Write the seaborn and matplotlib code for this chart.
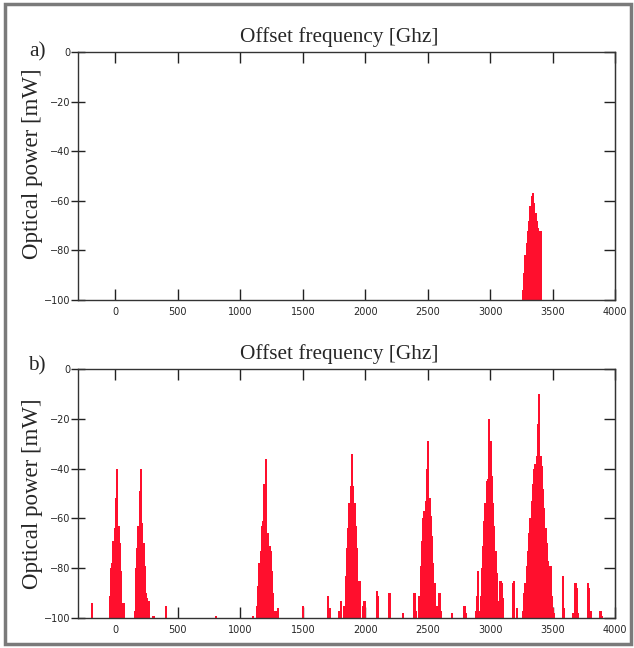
import pandas as pd
import seaborn as sns
import matplotlib.pyplot as plt
from matplotlib.patches import Rectangle

# baseline of the plots (mW axis floor)
floor = -100

# a) spectrum: offset frequency [GHz] vs optical power
freq_a = [3260, 3270, 3280, 3290, 3300, 3310, 3320, 3330, 3340, 3350,
          3360, 3370, 3380, 3390, 3400]
power_a = [-96, -89, -82, -77, -72, -68, -62, -58, -57, -61,
           -65, -68, -71, -72, -72]

# b) spectrum: comb clusters plus stray lines
freq_b = [-190,
          -50, -40, -30, -20, -10, 0, 10, 20, 30, 40, 50, 60,
          150, 160, 170, 180, 190, 200, 210, 220, 230, 240, 250, 260,
          300, 400, 800, 1100,
          1130, 1140, 1150, 1160, 1170, 1180, 1190, 1200, 1210, 1220,
          1230, 1240, 1250, 1260, 1270, 1290, 1300,
          1500, 1700, 1710, 1790, 1800,
          1830, 1840, 1850, 1860, 1870, 1880, 1890, 1900, 1910, 1920,
          1930, 1940, 1950,
          1980, 1990, 2090, 2100, 2190, 2300, 2390, 2400,
          2430, 2440, 2450, 2460, 2470, 2480, 2490, 2500, 2510, 2520,
          2530, 2540, 2550, 2560, 2570,
          2590, 2600, 2690, 2790, 2800,
          2880, 2890, 2900, 2910, 2920, 2930, 2940, 2950, 2960, 2970,
          2980, 2990, 3000, 3010, 3020, 3030, 3040, 3050, 3060, 3070,
          3080, 3090, 3100,
          3180, 3190, 3210,
          3260, 3270, 3280, 3290, 3300, 3310, 3320, 3330, 3340, 3350,
          3360, 3370, 3380, 3390, 3400, 3410, 3420, 3430, 3440, 3450,
          3460, 3470, 3480, 3490, 3500, 3510,
          3580, 3590, 3660, 3680, 3690, 3700, 3780, 3790, 3800,
          3880, 3890]
power_b = [-94,
           -91, -80, -78, -69, -64, -52, -40, -63, -70, -81, -94, -94,
           -97, -80, -72, -63, -49, -40, -62, -70, -79, -90, -92, -93,
           -99, -95, -99, -99,
           -95, -87, -78, -73, -63, -61, -46, -36, -67, -66,
           -71, -73, -81, -90, -97, -97, -96,
           -95, -91, -96, -97, -93,
           -95, -83, -72, -64, -54, -47, -34, -47, -54, -63,
           -72, -85, -85,
           -95, -93, -89, -91, -90, -98, -90, -97,
           -91, -79, -69, -60, -57, -53, -40, -29, -52, -59,
           -67, -78, -86, -95, -95,
           -90, -97, -98, -95, -98,
           -97, -91, -81, -97, -91, -80, -71, -61, -54, -45,
           -44, -20, -29, -43, -54, -63, -73, -82, -93, -93,
           -85, -86, -92,
           -86, -85, -96,
           -97, -90, -86, -79, -73, -66, -60, -53, -46, -40,
           -38, -35, -22, -10, -35, -39, -48, -56, -64, -70,
           -77, -85, -79, -91, -96, -98,
           -83, -96, -98, -86, -88, -98, -86, -88, -97,
           -97, -99]

x_ticks = [0, 500, 1000, 1500, 2000, 2500, 3000, 3500, 4000]
y_ticks = [0, -20, -40, -60, -80, -100]

red = "#ff0f2d"
serif = "Liberation Serif"

sns.set_style("ticks")
plt.rcParams["font.family"] = ["DejaVu Sans"]

fig = plt.figure(figsize=(6.34, 6.48), dpi=100)
W, H = 634, 648


def draw_panel(rect, freq, power, tag, tag_y, label_y):
    ax = fig.add_axes(rect)
    df = pd.DataFrame({"freq": freq, "level": [p - floor for p in power]})
    sns.barplot(data=df, x="freq", y="level", native_scale=True, width=1.0,
                color=red, saturation=1, errorbar=None, bottom=floor,
                edgecolor=red, linewidth=0.5, antialiased=False, ax=ax)
    ax.set_xlim(-300, 4000)
    ax.set_ylim(floor, 0)
    ax.set_xticks(x_ticks)
    ax.set_yticks(y_ticks)
    ax.set_xlabel("")
    ax.set_ylabel("Optical power [mW]", fontfamily=serif, fontsize=16.5)
    ax.yaxis.set_label_coords(-0.066, label_y)
    ax.set_title("Offset frequency [Ghz]", fontfamily=serif, fontsize=15.3,
                 pad=7, x=0.487)
    for s in ax.spines.values():
        s.set_visible(True)
        s.set_color("#333333")
        s.set_linewidth(1.0)
    ax.tick_params(axis="x", top=True, direction="in", length=8, width=1,
                   color="#222222", labelsize=7, pad=5)
    ax.tick_params(axis="y", left=True, direction="inout", length=10,
                   width=1, color="#222222", labelsize=7, pad=0.5)
    sec = ax.secondary_yaxis("right")
    sec.set_yticks(y_ticks)
    sec.tick_params(direction="in", length=8, width=1, color="#222222",
                    labelright=False)
    sec.spines["right"].set_color("#333333")
    fig.text(37 / W, 1 - tag_y / H, tag, ha="center", va="center",
             fontfamily=serif, fontsize=15.3)
    return ax


left, right = 78 / W, 615 / W
draw_panel([left, 1 - 300 / H, right - left, 248 / H], freq_a, power_a,
           "a)", 52, 0.55)
draw_panel([left, 1 - 618 / H, right - left, 249 / H], freq_b, power_b,
           "b)", 366, 0.5)

# grey frame round the whole figure
fig.patches.append(Rectangle((5 / W, 4 / H), 626 / W, 640 / H,
                             transform=fig.transFigure, fill=False,
                             edgecolor="#7a7a7a", linewidth=2.5))

plt.savefig("out.png", dpi=100)
